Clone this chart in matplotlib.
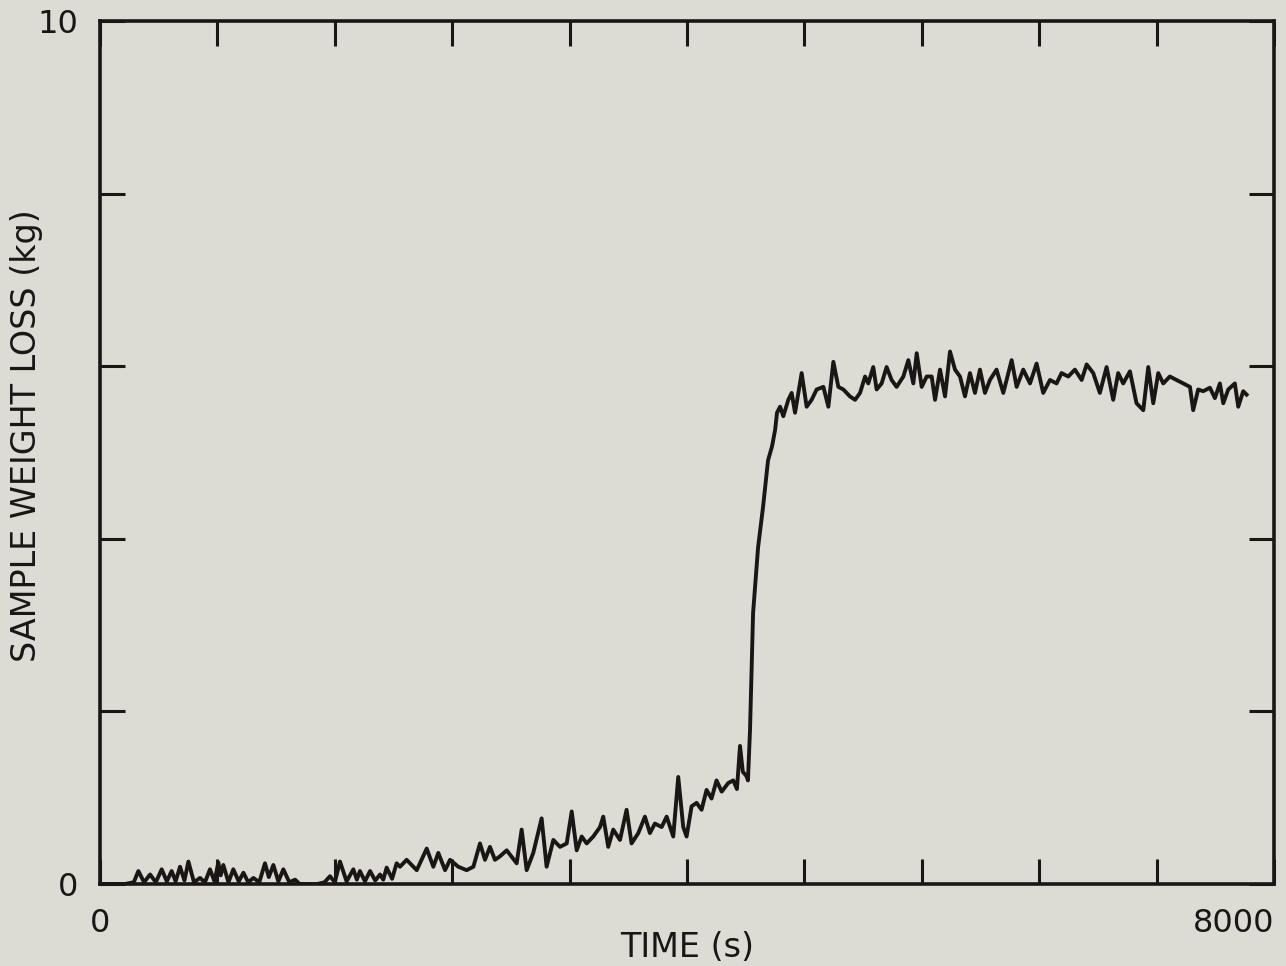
import matplotlib
matplotlib.use("Agg")
import matplotlib.pyplot as plt

plt.rcParams['font.family'] = ['DejaVu Sans']

tiempo = [
    0, 170, 230, 261, 300, 341, 380, 420, 455, 488, 515, 545, 575, 602, 640,
    681, 715, 749, 780, 806, 822, 840, 875, 908, 945, 977, 1010, 1045, 1085,
    1124, 1150, 1181, 1215, 1249, 1290, 1329, 1360, 1480, 1530, 1567, 1600,
    1635, 1680, 1726, 1750, 1771, 1805, 1840, 1875, 1908, 1930, 1953, 1990,
    2021, 2044, 2089, 2158, 2226, 2271, 2305, 2351, 2385, 2441, 2498, 2544,
    2589, 2623, 2657, 2691, 2725, 2771, 2839, 2873, 2907, 2952, 3009, 3043,
    3089, 3134, 3180, 3214, 3248, 3282, 3316, 3361, 3407, 3429, 3463, 3497,
    3543, 3588, 3622, 3668, 3713, 3747, 3781, 3827, 3861, 3906, 3940, 3974,
    3997, 4031, 4065, 4099, 4133, 4167, 4201, 4236, 4281, 4315, 4340, 4361,
    4380, 4405, 4415, 4429, 4450, 4484, 4518, 4552, 4579, 4600, 4613, 4634,
    4656, 4690, 4713, 4736, 4781, 4815, 4849, 4883, 4929, 4963, 4997, 5031,
    5065, 5110, 5145, 5179, 5213, 5235, 5269, 5292, 5326, 5360, 5394, 5428,
    5474, 5508, 5542, 5565, 5599, 5633, 5667, 5690, 5724, 5758, 5792, 5826,
    5860, 5894, 5928, 5962, 5996, 6030, 6064, 6109, 6155, 6212, 6246, 6291,
    6337, 6382, 6427, 6473, 6518, 6552, 6598, 6643, 6689, 6723, 6768, 6813,
    6859, 6904, 6938, 6972, 7018, 7063, 7109, 7143, 7177, 7211, 7245, 7290,
    7336, 7381, 7427, 7449, 7483, 7517, 7563, 7597, 7631, 7654, 7688, 7733,
    7756, 7790, 7813,
]
perdida = [
    0.0, 0.0, 0.02, 0.15, 0.02, 0.11, 0.02, 0.17, 0.03, 0.15, 0.03, 0.20,
    0.04, 0.26, 0.02, 0.07, 0.02, 0.17, 0.03, 0.25, 0.10, 0.22, 0.02, 0.17,
    0.03, 0.13, 0.02, 0.07, 0.02, 0.24, 0.08, 0.22, 0.03, 0.17, 0.02, 0.05,
    0.0, 0.0, 0.02, 0.09, 0.02, 0.26, 0.03, 0.17, 0.05, 0.15, 0.03, 0.15,
    0.04, 0.11, 0.05, 0.19, 0.06, 0.24, 0.20, 0.28, 0.16, 0.41, 0.20, 0.36,
    0.16, 0.28, 0.20, 0.16, 0.20, 0.47, 0.28, 0.43, 0.28, 0.32, 0.39, 0.24,
    0.63, 0.16, 0.36, 0.76, 0.20, 0.51, 0.43, 0.47, 0.84, 0.39, 0.55, 0.47,
    0.55, 0.66, 0.78, 0.43, 0.63, 0.51, 0.86, 0.47, 0.59, 0.78, 0.59, 0.70,
    0.66, 0.78, 0.55, 1.24, 0.66, 0.55, 0.90, 0.94, 0.86, 1.09, 0.99, 1.20,
    1.07, 1.17, 1.20, 1.10, 1.60, 1.30, 1.25, 1.20, 1.78, 3.14, 3.90, 4.37,
    4.91, 5.07, 5.26, 5.46, 5.53, 5.42, 5.61, 5.69, 5.46, 5.92, 5.53, 5.61,
    5.73, 5.76, 5.53, 6.05, 5.76, 5.73, 5.65, 5.61, 5.69, 5.88, 5.80, 5.99,
    5.73, 5.80, 5.99, 5.84, 5.76, 5.88, 6.07, 5.80, 6.15, 5.76, 5.88, 5.88,
    5.61, 5.96, 5.65, 6.17, 5.96, 5.88, 5.65, 5.92, 5.69, 5.96, 5.69, 5.84,
    5.96, 5.69, 6.07, 5.76, 5.96, 5.80, 6.03, 5.69, 5.84, 5.80, 5.92, 5.88,
    5.96, 5.84, 6.02, 5.92, 5.69, 5.99, 5.61, 5.92, 5.80, 5.94, 5.57, 5.49,
    5.99, 5.57, 5.92, 5.80, 5.88, 5.84, 5.80, 5.76, 5.49, 5.73, 5.71, 5.75,
    5.63, 5.80, 5.57, 5.73, 5.80, 5.53, 5.71, 5.67,
]

# ticks
xticks = [0, 800, 1600, 2400, 3200, 4000, 4800, 5600, 6400, 7200, 8000]
xlabels = ["0", "", "", "", "", "", "", "", "", "", "8000"]
yticks = [0, 2, 4, 6, 8, 10]
ylabels = ["0", "", "", "", "", "10"]

fondo = '#dcdcd5'
tinta = '#1b1616'

fig = plt.figure(figsize=(12.86, 9.66), dpi=100, facecolor=fondo)
ax = fig.add_axes([0.0778, 0.0849, 0.9129, 0.8934])
ax.set_facecolor(fondo)

ax.plot(tiempo, perdida, color=tinta, linewidth=2.8, solid_joinstyle='round')

ax.set_xlim(0, 8000)
ax.set_ylim(0, 10)
ax.set_xticks(xticks)
ax.set_xticklabels(xlabels)
ax.set_yticks(yticks)
ax.set_yticklabels(ylabels)

ax.tick_params(direction='in', length=18, width=2.2, color=tinta,
               top=True, right=True, labelsize=23, labelcolor=tinta)
ax.tick_params(axis='x', pad=17)
ax.tick_params(axis='y', pad=16)
for s in ax.spines.values():
    s.set_linewidth(2.6)
    s.set_color(tinta)

# el 8000 va alineado a la derecha como en el original
ax.get_xticklabels()[-1].set_horizontalalignment('right')
ax.get_xticklabels()[-1].set_x(8000)

ax.set_xlabel("TIME (s)", fontsize=24, color=tinta)
ax.xaxis.set_label_coords(0.5, -0.054)
ax.set_ylabel("SAMPLE WEIGHT LOSS (kg)", fontsize=24, color=tinta)
ax.yaxis.set_label_coords(-0.049, 0.52)

fig.savefig("out.png", dpi=100, facecolor=fondo)
